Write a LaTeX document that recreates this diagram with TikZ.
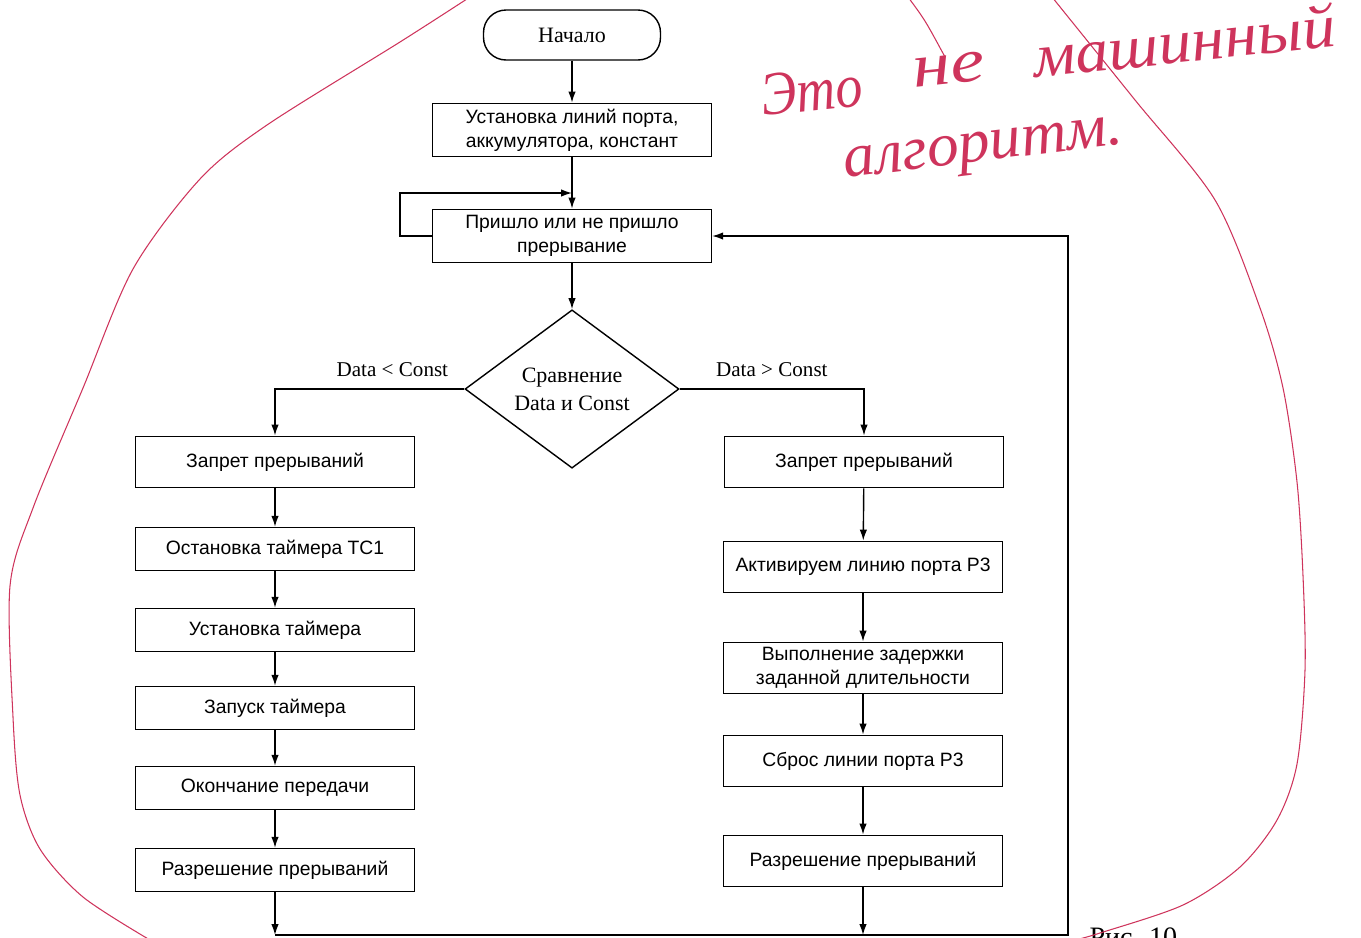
\documentclass[tikz,border=0pt]{standalone}
\usepackage{fontspec}
\setmainfont{Liberation Serif}
\setsansfont{Liberation Sans}
\usetikzlibrary{arrows.meta,shapes.geometric}
\definecolor{inkred}{RGB}{206,52,92}

\begin{document}
\begin{tikzpicture}[x=0.02cm,y=-0.02cm,line width=0.8pt,
                     >={Latex[length=2.2mm,width=1.5mm]},
                     blk/.style={draw,rectangle,align=center,inner sep=1pt,
                       minimum width=5.58cm,minimum height=0.86cm,
                       font=\sffamily\fontsize{11}{13.6}\selectfont},
                     tall/.style={minimum height=1.03cm},
                     term/.style={draw,rounded corners=0.45cm,
                       minimum width=3.54cm,minimum height=1cm,
                       font=\fontsize{12.5}{15}\selectfont},
                     cond/.style={draw,diamond,align=center,inner sep=0pt,
                       minimum width=4.28cm,minimum height=2.78cm,
                       font=\fontsize{12.5}{16}\selectfont},
                     lbl/.style={font=\fontsize{12}{14}\selectfont},
                     hand/.style={inkred,anchor=base west,inner sep=0pt,
                       font=\itshape\fontsize{35}{37}\selectfont},
                     ink/.style={inkred,line width=0.6pt}]
                     \useasboundingbox (0,0) rectangle (1361,937);
                     % main line
                     \node[term] (start) at (572,35) {Начало};
                     \node[blk,minimum height=1.07cm] (init) at (572,130)
                       {Установка линий порта,\\аккумулятора, констант};
                     \node[blk,minimum height=1.07cm] (wait) at (572,236)
                       {Пришло или не пришло\\прерывание};
                     \node[cond] (cmp) at (572,389) {Сравнение\\Data и Const};
                     % left branch
                     \node[blk,tall] (l1) at (275,462) {Запрет прерываний};
                     \node[blk] (l2) at (275,549) {Остановка таймера TC1};
                     \node[blk] (l3) at (275,630) {Установка таймера};
                     \node[blk] (l4) at (275,708) {Запуск таймера};
                     \node[blk] (l5) at (275,788) {Окончание передачи};
                     \node[blk] (l6) at (275,870) {Разрешение прерываний};
                     % right branch
                     \node[blk,tall] (r1) at (864,462) {Запрет прерываний};
                     \node[blk,tall] (r2) at (863,567) {Активируем линию порта Р3};
                     \node[blk,tall] (r3) at (863,668)
                       {Выполнение задержки\\заданной длительности};
                     \node[blk,tall] (r4) at (863,761) {Сброс линии порта Р3};
                     \node[blk,tall] (r5) at (863,861) {Разрешение прерываний};
                     \coordinate (loopin) at (572,193);
                     \coordinate (bot) at (1068,935);
                     \foreach \a/\b in {start/init,init/wait,wait/cmp,l1/l2,l2/l3,l3/l4,
                                        l4/l5,l5/l6,r1/r2,r2/r3,r3/r4,r4/r5}{
                       \draw[->] (\a) -- (\b);
                     }
                     \draw[->] (wait.west) -- ++(-32,0) |- (loopin);
                     \draw[->] (cmp.west) -| (l1)
                       node[lbl,above=3pt,pos=0.19] {Data < Const};
                     \draw[->] (cmp.east) -| (r1)
                       node[lbl,above=3pt,pos=0.25] {Data > Const};
                     \draw[->] (l6) -- (l6 |- bot);
                     \draw[->] (r5) -- (r5 |- bot);
                     \draw[->] (l6 |- bot) -- (bot) |- (wait);
                     \node[anchor=base west,font=\fontsize{16}{19}\selectfont] (fig)
                       at (1083,946) {Рис. 10};
                     % red pen
                     \draw[ink] plot[smooth] coordinates {(470,-3) (400,42) (267,125)
                       (200,179) (133,269) (83,388) (33,508) (10,586) (13,717) (20,795)
                       (40,849) (83,897) (150,940)};
                     \draw[ink] plot[smooth] coordinates {(1052,-3) (1135,100) (1215,200)
                       (1260,308) (1283,388) (1297,482) (1303,576) (1305,670) (1297,764)
                       (1277,820) (1240,867) (1183,905) (1100,933) (1075,940)};
                     \draw[ink] (908,-3) .. controls (925,20) .. (945,57);
                     \node[hand,rotate=6,xscale=0.88] (w1) at (763,116) {Это};
                     \node[hand,rotate=6,xscale=1.25] (w2) at (914,88) {не};
                     \node[hand,rotate=6,xscale=1.08] (w3) at (1035,78) {машинный};
                     \node[hand,rotate=7,xscale=1.03] (w4) at (845,178) {алгоритм.};
                   \end{tikzpicture}
\end{document}
